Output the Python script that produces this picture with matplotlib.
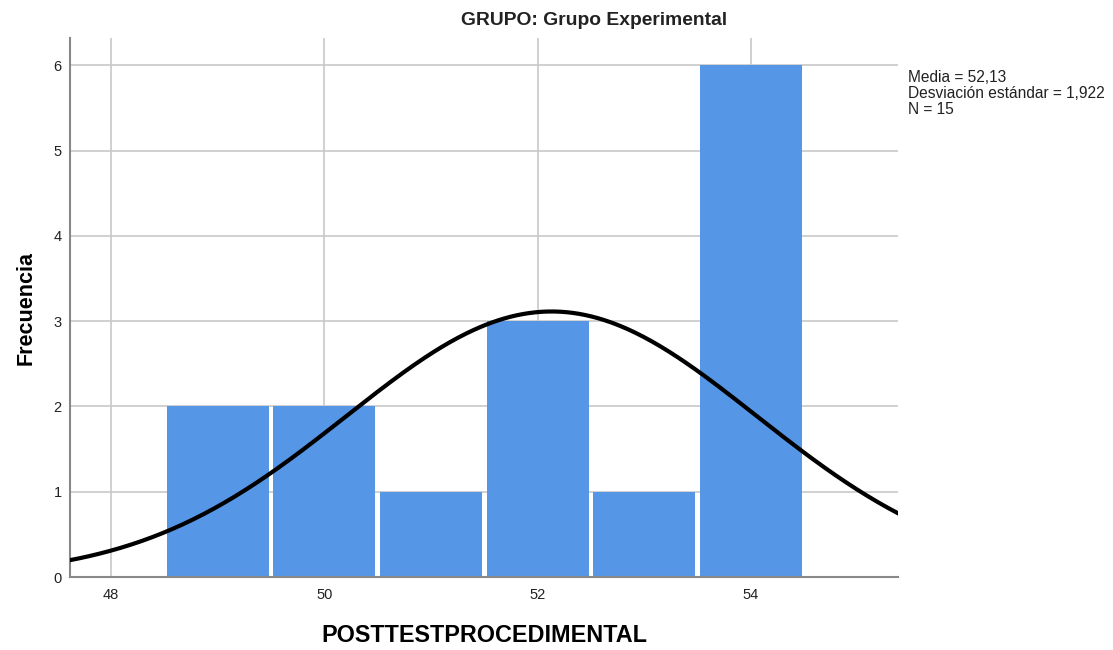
import numpy as np
import matplotlib
matplotlib.use("Agg")
import matplotlib.pyplot as plt

bin_centers = [49, 50, 51, 52, 53, 54]
counts = [2, 2, 1, 3, 1, 6]
media = 52.13
desv = 1.922
n = 15
bin_width = 1.0
x_ticks = [48, 50, 52, 54]
y_ticks = [0, 1, 2, 3, 4, 5, 6]

plt.rcParams['font.family'] = ['Liberation Sans', 'DejaVu Sans']

fig = plt.figure(figsize=(11.13, 6.5), dpi=100)
ax = fig.add_axes([0.0629, 0.1123, 0.7439, 0.8292])

grid_c = '#c8c8c8'
ax.set_axisbelow(True)
ax.grid(True, color=grid_c, linewidth=1.2)

# barras con un pequeño hueco blanco entre ellas
ax.bar(bin_centers, counts, width=bin_width * 0.955, color='#5596e6',
       linewidth=0, zorder=2)

# curva normal escalada a frecuencias
xs = np.linspace(47.6, 55.4, 400)
ys = n * bin_width / (desv * np.sqrt(2 * np.pi)) * np.exp(-0.5 * ((xs - media) / desv) ** 2)
ax.plot(xs, ys, color='black', linewidth=3, zorder=3)

ax.set_xlim(47.616, 55.377)
ax.set_ylim(0, 6.32)
ax.set_xticks(x_ticks)
ax.set_yticks(y_ticks)
ax.tick_params(length=0, labelsize=10.5, colors='#222222', pad=8)
ax.tick_params(axis='y', pad=6)

for s in ['top', 'right']:
    ax.spines[s].set_visible(False)
for s in ['left', 'bottom']:
    ax.spines[s].set_color('#888888')
    ax.spines[s].set_linewidth(1.5)

ax.set_ylabel('Frecuencia', fontsize=15.5, fontweight='bold', labelpad=12)
ax.set_xlabel('POSTTESTPROCEDIMENTAL', fontsize=16.8, fontweight='bold', labelpad=16)

fig.text(0.534, 0.968, 'GRUPO: Grupo Experimental', ha='center', va='center',
         fontsize=13.9, fontweight='bold', color='#222222')

stats = (f'Media = {media:.2f}\n'
         f'Desviación estándar = {desv:.3f}\n'
         f'N = {n}').replace('.', ',')
fig.text(0.816, 0.893, stats, ha='left', va='top', fontsize=11.2,
         linespacing=1.1, color='#222222')

fig.savefig('out.png', dpi=100)
